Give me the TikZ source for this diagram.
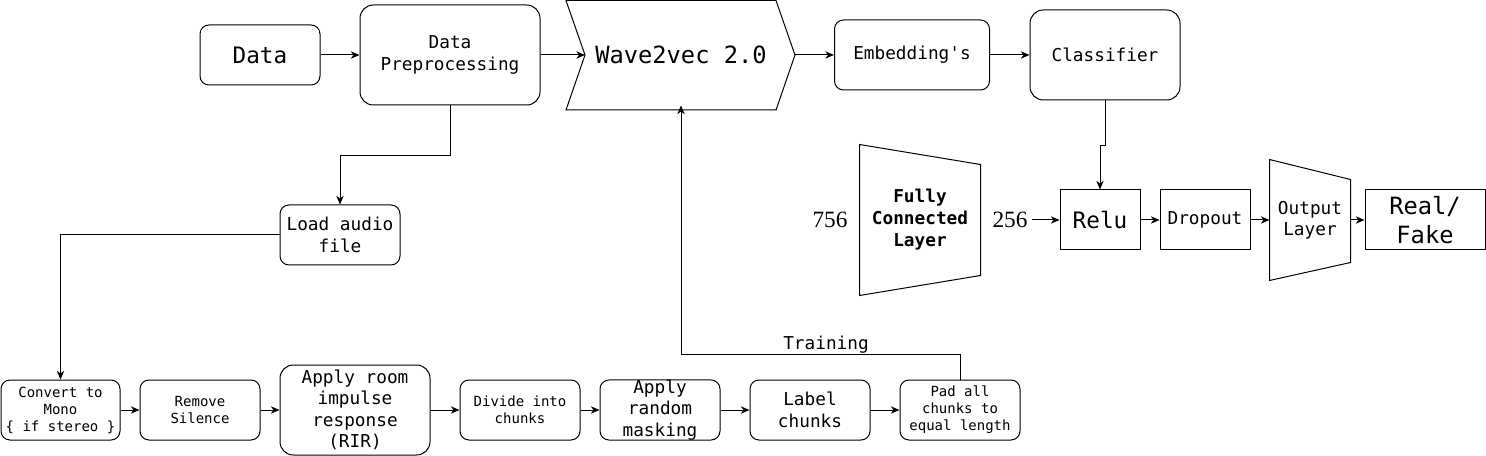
\documentclass[tikz,border=0pt]{standalone}
\usepackage{fontspec}
\newfontfamily\dmono{DejaVu Sans Mono}
\newfontfamily\tnr{Liberation Serif}
\usetikzlibrary{arrows.meta,calc}
\begin{document}
\begin{tikzpicture}[x=0.75pt,y=-0.75pt,line width=0.75pt,
  sz/.style 2 args={minimum width=#1*0.75pt,minimum height=#2*0.75pt},
  base/.style={inner sep=0pt,align=center},
  rbox/.style={base,draw,rounded corners=6.75pt},
  rboxb/.style={base,draw,rounded corners=10pt},
  sbox/.style={base,draw},
  fS/.style={font=\dmono\fontsize{10.5}{12.75}\selectfont},
  fM/.style={font=\dmono\fontsize{13.3}{16}\selectfont},
  fL/.style={font=\dmono\fontsize{17}{20.4}\selectfont},
  fXL/.style={font=\dmono\fontsize{17.8}{21.4}\selectfont},
  fB/.style={font=\dmono\bfseries\fontsize{13.3}{16.5}\selectfont},
  fT/.style={font=\tnr\fontsize{17.5}{20}\selectfont},
  arr/.style={-{Stealth[length=6.5pt,width=5.5pt,inset=2pt]}}]
\useasboundingbox (0,0) rectangle (1486,456);

% top row
\node[rbox,sz={120}{60},fL] (data) at (260,55) {Data};
\node[rboxb,sz={180}{100},fM] (prep) at (450,55) {Data\\Preprocessing};
\draw (566,0.5) -- (776,0.5) -- (795,55) -- (776,110) -- (566,110) -- (585,55) -- cycle;
\node[base,sz={190}{100},fXL] (w2v) at (681,55) {Wave2vec 2.0};
\coordinate (w2vin) at (585,55);
\coordinate (w2vout) at (795,55);
\node[rbox,sz={155}{70},fM] (emb) at (912,55) {Embedding's};
\node[rboxb,sz={150}{90},fM] (cls) at (1105,55) {Classifier};

\draw[arr] (data) -- (prep);
\draw[arr] (prep) -- (w2vin);
\draw[arr] (w2vout) -- (emb);
\draw[arr] (emb) -- (cls);

% classifier head
\node[base,sz={120}{150},fB] (fc) at (920,220) {Fully\\Connected\\Layer};
\draw (fc.north west) -- ($(fc.north east)+(0,20)$) -- ($(fc.south east)+(0,-20)$) -- (fc.south west) -- cycle;
\node[base,fT] (n756) at (830,220) {756};
\node[base,fT,outer sep=3pt] (n256) at (1010,220) {256};
\node[sbox,sz={80}{60},fL] (relu) at (1100,220) {Relu};
\node[sbox,sz={90}{60},fM] (drop) at (1205,220) {Dropout};
\node[base,sz={80}{120},fM] (out) at (1310,220) {Output\\Layer};
\draw (out.north west) -- ($(out.north east)+(0,20)$) -- ($(out.south east)+(0,-18)$) -- (out.south west) -- cycle;
\node[sbox,sz={120}{60},fXL] (rf) at (1425,220) {Real/\\Fake};

\draw[arr] (cls.south) -- ++(0,45) -| (relu.north);
\draw[arr] (n256) -- (relu);
\draw[arr] (relu) -- (drop);
\draw[arr] (drop) -- (out);
\draw[arr] (out) -- (rf);

% preprocessing branch
\node[rbox,sz={120}{60},fM] (load) at (340,235) {Load audio\\file};
\draw[arr] (prep.south) -- ++(0,50) -| (load.north);

% bottom row
\node[rbox,sz={119}{60},fS] (conv) at (60.5,410) {Convert to\\Mono\\\{ if stereo \}};
\node[rbox,sz={120}{60},fS] (rem) at (200,410) {Remove\\Silence};
\node[rboxb,sz={150}{90},fM] (rir) at (355,410) {Apply room\\impulse\\response\\(RIR)};
\node[rbox,sz={120}{60},fS] (div) at (520,410) {Divide into\\chunks};
\node[rbox,sz={120}{60},fM] (mask) at (660,410) {Apply\\random\\masking};
\node[rbox,sz={120}{60},fM] (lab) at (810,410) {Label\\chunks};
\node[rbox,sz={120}{60},fS] (pad) at (960,410) {Pad all\\chunks to\\equal length};

\draw[arr] (load.west) -| (conv.north);
\draw[arr] (conv) -- (rem);
\draw[arr] (rem) -- (rir);
\draw[arr] (rir) -- (div);
\draw[arr] (div) -- (mask);
\draw[arr] (mask) -- (lab);
\draw[arr] (lab) -- (pad);

\draw[arr] (pad.north) -- ++(0,-25) -| (w2v.south);
\node[base,fM] (train) at (826,345) {Training};
\end{tikzpicture}
\end{document}
